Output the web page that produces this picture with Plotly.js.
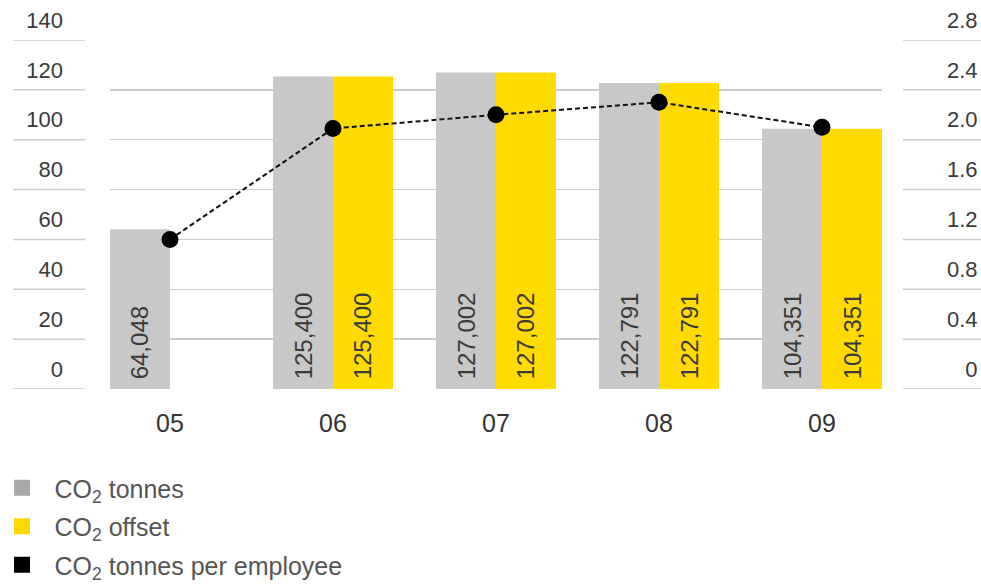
<!DOCTYPE html>
<html>
<head>
<meta charset="utf-8">
<script src="https://cdn.plot.ly/plotly-3.0.1.min.js"></script>
<style>html,body{margin:0;padding:0;background:#fff;}#chart{width:981px;height:584px;}</style>
</head>
<body>
<div id="chart"></div>
<script>
// ---- data ----
var years = ['05', '06', '07', '08', '09'];
var co2Tonnes = [64048, 125400, 127002, 122791, 104351];
var co2Offset = [null, 125400, 127002, 122791, 104351];
var co2PerEmployee = [1.2, 2.09, 2.2, 2.3, 2.1];
var leftTicks = [0, 20, 40, 60, 80, 100, 120, 140];
var rightTicks = [0, 0.4, 0.8, 1.2, 1.6, 2.0, 2.4, 2.8];
var rightTickText = ['0', '0.4', '0.8', '1.2', '1.6', '2.0', '2.4', '2.8'];
var legendNames = ['CO<sub>2</sub> tonnes', 'CO<sub>2</sub> offset', 'CO<sub>2</sub> tonnes per employee'];
var legendColors = ['#a9a9a9', '#ffd800', '#000000'];

function fmt(v) { return v == null ? '' : '\u00a0' + v.toLocaleString('en-US'); }
function toThousands(arr) { return arr.map(function (v) { return v == null ? null : v / 1000; }); }

// pad right-axis labels so they appear right-aligned
function padLabel(t) {
  return t.length < 3 ? '\u2007\u2008' + t : t;
}

var W = 981, H = 584, plotL = 110, plotR = 882, plotT = 40, plotB = 389;
var pw = plotR - plotL, ph = plotB - plotT;
function px(x) { return (x - plotL) / pw; }
function py(y) { return (plotB - y) / ph; }

var barFont = { family: 'Liberation Sans, Arial, sans-serif', size: 24, color: '#3a3a3a' };

var traces = [
  {
    type: 'bar', x: years, y: toThousands(co2Tonnes),
    marker: { color: '#c8c8c8' },
    text: co2Tonnes.map(fmt), textposition: 'inside', insidetextanchor: 'start',
    textangle: -90, textfont: barFont, showlegend: false, hoverinfo: 'skip'
  },
  {
    type: 'bar', x: years, y: toThousands(co2Offset),
    marker: { color: '#ffdb00' },
    text: co2Offset.map(fmt), textposition: 'inside', insidetextanchor: 'start',
    textangle: -90, textfont: barFont, showlegend: false, hoverinfo: 'skip'
  },
  {
    type: 'scatter', mode: 'lines+markers', x: years, y: co2PerEmployee, yaxis: 'y2',
    line: { color: '#111', width: 2, dash: '5px,3px' },
    marker: { color: '#000', size: 17 },
    showlegend: false, hoverinfo: 'skip'
  }
];

legendNames.forEach(function (n, i) {
  traces.push({
    type: 'scatter', mode: 'markers', x: [null], y: [null], name: '\u2002' + n,
    legendgroup: 'g' + i,
    marker: { symbol: 'square', size: 16, color: legendColors[i] },
    hoverinfo: 'skip'
  });
});

var shapes = [];
leftTicks.forEach(function (t) {
  shapes.push({ type: 'line', xref: 'paper', yref: 'y', x0: px(13), x1: px(85), y0: t, y1: t,
    line: { color: '#cccccc', width: 1.5 }, layer: 'below' });
  shapes.push({ type: 'line', xref: 'paper', yref: 'y', x0: px(903), x1: px(981), y0: t, y1: t,
    line: { color: '#cccccc', width: 1.5 }, layer: 'below' });
});

var layout = {
  width: W, height: H,
  margin: { l: plotL, r: W - plotR, t: plotT, b: H - plotB, autoexpand: false },
  paper_bgcolor: '#fff', plot_bgcolor: '#fff',
  font: { family: 'Liberation Sans, Arial, sans-serif', color: '#3a3a3a' },
  barmode: 'group', bargap: 0.264, bargroupgap: 0,
  xaxis: {
    type: 'category', categoryarray: years, range: [-0.368, 4.368],
    showgrid: false, zeroline: false, showline: false, ticks: '', automargin: false,
    tickfont: { size: 25, color: '#333' }, ticklabelstandoff: 17
  },
  yaxis: {
    range: [0, 140], tickvals: leftTicks, showgrid: true, gridcolor: '#cccccc', gridwidth: 1.5,
    zeroline: false, showline: false, ticks: '', automargin: false,
    tickfont: { size: 22, color: '#3a3a3a' }, ticklabelshift: -20, ticklabelstandoff: 46
  },
  yaxis2: {
    overlaying: 'y', side: 'right', range: [0, 2.8], tickvals: rightTicks, automargin: false,
    ticktext: rightTickText.map(padLabel), showgrid: false, zeroline: false, showline: false, ticks: '',
    tickfont: { size: 22, color: '#3a3a3a' }, ticklabelshift: -20, ticklabelstandoff: 64
  },
  legend: {
    x: px(2), y: py(465), xanchor: 'left', yanchor: 'top',
    font: { size: 25, color: '#555' }, traceorder: 'grouped', tracegroupgap: 3,
    bgcolor: 'rgba(0,0,0,0)', itemclick: false
  },
  shapes: shapes,
  showlegend: true
};

Plotly.newPlot('chart', traces, layout, { displayModeBar: false, staticPlot: true });
</script>
</body>
</html>
